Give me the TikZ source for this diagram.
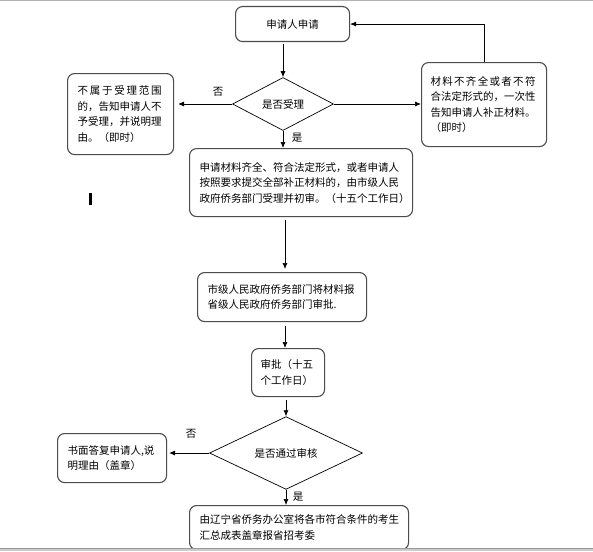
\documentclass[tikz,border=0pt]{standalone}
\usepackage{fontspec}
\setmainfont{Noto Sans CJK SC}
\usetikzlibrary{shapes.geometric,arrows.meta}
\begin{document}
\begin{tikzpicture}[x=1pt,y=-1pt,
  box/.style={draw=black!70, line width=1.1pt, rounded corners=7pt, anchor=north west, align=left, inner xsep=10pt, inner ysep=0pt, font=\fontsize{10.5}{15.5}\selectfont},
  dia/.style={draw=black, line width=0.7pt, diamond, inner sep=0pt, font=\fontsize{10.5}{13}\selectfont},
  arr/.style={-{Latex[length=6pt,width=5pt]}, line width=0.7pt},
  lab/.style={font=\fontsize{10.5}{13}\selectfont, inner sep=0pt}]
\useasboundingbox (0,0) rectangle (593,551);
\clip (0,0) rectangle (593,551);
\fill[white] (0,0) rectangle (593,551);

\node[box, minimum width=114pt, minimum height=35pt, align=center, inner xsep=0pt] (b1) at (235,6) {申请人申请};
\node[dia, minimum width=101pt, minimum height=53pt] (d1) at (283,104) {是否受理};
\node[box, text width=86pt, minimum width=106pt, minimum height=81pt] (b2) at (67,73) {\makebox[84pt]{不\hfill 属\hfill 于\hfill 受\hfill 理\hfill 范\hfill 围}\\的，告知申请人不\\予受理，并说明理\\由。（即时）};
\node[box, text width=107pt, inner xsep=9pt, minimum width=125pt, minimum height=84pt] (br) at (421,62) {\makebox[105pt]{材\hfill 料\hfill 不\hfill 齐\hfill 全\hfill 或\hfill 者\hfill 不\hfill 符}\\合法定形式的，一次性\\告知申请人补正材料。\\（即时）};
\node[box, text width=203pt, minimum width=223pt, minimum height=68pt] (b3) at (189,148) {申请材料齐全、符合法定形式，或者申请人\\按照要求提交全部补正材料的，由市级人民\\政府侨务部门受理并初审。（十五个工作日）};
\node[box, text width=149pt, minimum width=169pt, minimum height=49pt] (b4) at (197,272) {市级人民政府侨务部门将材料报\\省级人民政府侨务部门审批.};
\node[box, text width=55pt, inner xsep=9pt, minimum width=73pt, minimum height=48pt] (b5) at (251,348) {审批（十五\\个工作日）};
\node[dia, minimum width=153pt, minimum height=49pt] (d2) at (286,453) {是否通过审核};
\node[box, text width=89pt, minimum width=109pt, minimum height=49pt] (b7) at (57,433) {书面答复申请人,说\\明理由（盖章）};
\node[box, text width=199pt, minimum width=219pt, minimum height=44pt] (b6) at (189,505) {由辽宁省侨务办公室将各市符合条件的考生\\汇总成表盖章报省招考委};

\node[lab] (n1) at (218,92) {否};
\node[lab] (y1) at (297,138) {是};
\node[lab] (n2) at (191,434) {否};
\node[lab] (y2) at (298,497) {是};

\coordinate (sp) at (285,0);
\draw[arr, shorten <=2pt] (d1.north |- b1.south) -- (d1.north);
\draw[arr, shorten >=4pt] (d1.west) -- (d1.west -| b2.east);
\draw[arr] (d1.east) -- (d1.east -| br.west);
\draw[arr] (br.north) |- (b1.east);
\draw[arr] (d1.south) -- (d1.south |- b3.north);
\draw[arr, shorten <=3pt, shorten >=3pt] (sp |- b3.south) -- (sp |- b4.north);
\draw[arr, shorten <=4pt] (sp |- b4.south) -- (sp |- b5.north);
\draw[arr, shorten <=3pt] (d2.north |- b5.south) -- (d2.north);
\draw[arr, shorten >=2pt] (d2.west) -- (d2.west -| b7.east);
\draw[arr] (d2.south) -- (d2.south |- b6.north);

\fill (89,193) rectangle (91.5,205);
\fill[black!30] (0,0) rectangle (593,1.5);
\fill[black!20] (0,548) rectangle (593,551);
\draw[black!40, line width=0.6pt] (0,548) -- (593,548);
\end{tikzpicture}
\end{document}
